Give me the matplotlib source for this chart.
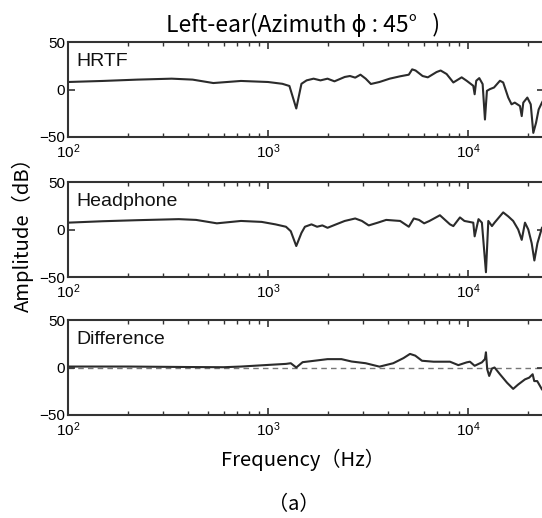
import math
import matplotlib
matplotlib.use("Agg")
import matplotlib.pyplot as plt
from matplotlib.ticker import LogLocator, FixedLocator, NullFormatter, FuncFormatter

plt.rcParams['mathtext.fontset'] = 'custom'
plt.rcParams['mathtext.rm'] = 'Liberation Sans'
plt.rcParams['mathtext.default'] = 'regular'

# ---- data ----
freq_hrtf = [100, 149, 222, 330, 420, 533, 733, 1000, 1180, 1280, 1385, 1470, 1560, 1690,
             1830, 1985, 2150, 2420, 2570, 2730, 2900, 3080, 3270, 3610, 4060, 4580, 5060,
             5260, 5470, 5930, 6300, 6970, 7300, 7820, 8450, 9300, 9850, 10630, 10800, 11000,
             11390, 11840, 12160, 12440, 12880, 13500, 14450, 15000, 15900, 16520, 17140,
             18200, 18570, 18910, 19810, 20600, 21220, 21900, 22570, 23440, 24000]
amp_hrtf = [7.9, 9, 10.4, 11.4, 10.4, 6.8, 9, 7.9, 6, 3.7, -20, 6, 9.6, 11.4,
            9.6, 11.4, 8.6, 13.2, 14.2, 12.5, 15.6, 11.4, 5.8, 7.9, 11.4, 13.9, 15.6,
            21.2, 20, 14.2, 12.8, 18.4, 20, 16.3, 7.4, 12.8, 9.2, 3.9, -5, 9.2,
            12, 5.7, -31.6, -1.4, 0.4, 2.1, 9.2, 7.4, -8.5, -15.6, -13.8,
            -17.4, -28, -13.8, -8.5, -15.6, -45.7, -35, -21, -13.8, -10]

freq_hp = [100, 149, 222, 358, 437, 555, 733, 930, 1090, 1230, 1300, 1385, 1470, 1530,
           1650, 1760, 1870, 1985, 2190, 2420, 2730, 2950, 3190, 3540, 3900, 4580, 5060,
           5360, 5690, 6040, 6420, 7240, 8130, 8450, 9120, 9600, 10630, 10800, 11290,
           11740, 12300, 12640, 13180, 13580, 15000, 15900, 16830, 17830, 18570, 19280,
           20030, 20830, 21480, 22250, 23440, 24000]
amp_hp = [7.2, 8.7, 9.8, 10.9, 10.1, 6.5, 9, 8, 5.4, 2.9, -1.8, -17.4, -3.6, 2.9,
          5.4, 2.9, 4.3, 1.8, 5.4, 9, 11.6, 9, 4.3, 7.2, 10.1, 9, 2.9,
          11.6, 10.1, 6.5, 9, 15, 5.4, 3.6, 12.7, 9, 7.2, -7.2, 10.9,
          7.2, -45, 9, 3.6, 7.2, 18, 13.8, 9, 0, -10.9, 7.2,
          0, -14.5, -32.6, -14.5, 1.8, 4]

freq_diff = [100, 200, 400, 600, 733, 1000, 1230, 1300, 1385, 1490, 1690, 1985, 2330,
             2620, 3080, 3610, 4230, 4760, 5130, 5450, 5890, 6730, 8130, 8950, 9850,
             10230, 10800, 11740, 12160, 12300, 12480, 12770, 13180, 13580, 14450, 15680,
             16830, 17830, 19280, 20230, 21060, 21450, 22200, 23440, 24000]
amp_diff = [1, 1, 0.5, 0.3, 1, 2.7, 3.8, 4.5, 0, 5.6, 7, 8.8, 8.8,
            6.3, 4.5, 0.9, 4.5, 9.9, 14.3, 12.5, 7.1, 6.1, 6.1, 2.5, 5.4,
            6.1, 1.8, 5.4, 8.9, 16, -1.8, -8.9, -1.1, 0, -7.1, -16,
            -22.5, -17.9, -12.5, -10.7, -7.1, -14.3, -14.3, -23, -25]

panel_names = ["HRTF", "Headphone", "Difference"]
y_ticks = [-50, 0, 50]
x_major = [1e2, 1e3, 1e4]
x_lim = (100, 24000)
title = "Left-ear(Azimuth \u03d5 : 45\u00b0   )"
x_label = "Frequency\uff08Hz\uff09"
y_label = "Amplitude\uff08dB\uff09"
caption = "\uff08a\uff09"

W, H = 542, 518
fig = plt.figure(figsize=(W / 100, H / 100), dpi=100)

line_color = "#2b2b2b"
spine_color = "#333333"
left_px, right_px = 68, 544
panel_px = [(42, 137), (182, 277), (320, 415)]
series = [(freq_hrtf, amp_hrtf), (freq_hp, amp_hp), (freq_diff, amp_diff)]

for i, ((top, bot), (f, a), name) in enumerate(zip(panel_px, series, panel_names)):
    ax = fig.add_axes([left_px / W, 1 - bot / H, (right_px - left_px) / W, (bot - top) / H])
    if i == 2:
        ax.axhline(0, color="#777777", lw=1.0, ls=(0, (4, 3)), zorder=1)
    ax.plot(f, a, color=line_color, lw=1.5, zorder=2)
    ax.set_xscale("log")
    ax.set_xlim(*x_lim)
    ax.set_ylim(-50, 50)
    ax.set_yticks(y_ticks)
    ax.xaxis.set_major_locator(FixedLocator(x_major))
    ax.xaxis.set_minor_locator(LogLocator(base=10, subs=range(2, 10), numticks=20))
    ax.xaxis.set_minor_formatter(NullFormatter())
    ax.xaxis.set_major_formatter(FuncFormatter(lambda v, p: r"$10^{%d}$" % round(math.log10(v))))
    ax.tick_params(axis="both", which="major", direction="in", length=5, width=1.2,
                   top=True, right=True, color=spine_color, pad=4)
    ax.tick_params(axis="x", which="minor", direction="in", length=3, width=1.0,
                   top=True, color=spine_color)
    for lab in ax.get_xticklabels() + ax.get_yticklabels():
        lab.set_fontfamily("Liberation Sans")
        lab.set_fontsize(11)
    ax.tick_params(axis="y", pad=2)
    for s in ax.spines.values():
        s.set_color(spine_color)
        s.set_linewidth(1.5)
    ax.text(0.018, 0.79, name, transform=ax.transAxes, ha="left", va="center",
            fontsize=14, family="Liberation Sans", color="#111111")

cjk = ["Noto Sans CJK JP", "DejaVu Sans"]
fig.text(303 / W, 1 - 25 / H, title, ha="center", va="center", fontsize=16.5, family=cjk)
fig.text(303 / W, 1 - 460 / H, x_label, ha="center", va="center", fontsize=14.5, family=cjk)
fig.text(23 / W, 1 - 230 / H, y_label, ha="center", va="center", rotation=90,
         fontsize=14.5, family=cjk)
fig.text(294 / W, 1 - 505 / H, caption, ha="center", va="center", fontsize=14.5, family=cjk)

fig.savefig("out.png", dpi=100)
